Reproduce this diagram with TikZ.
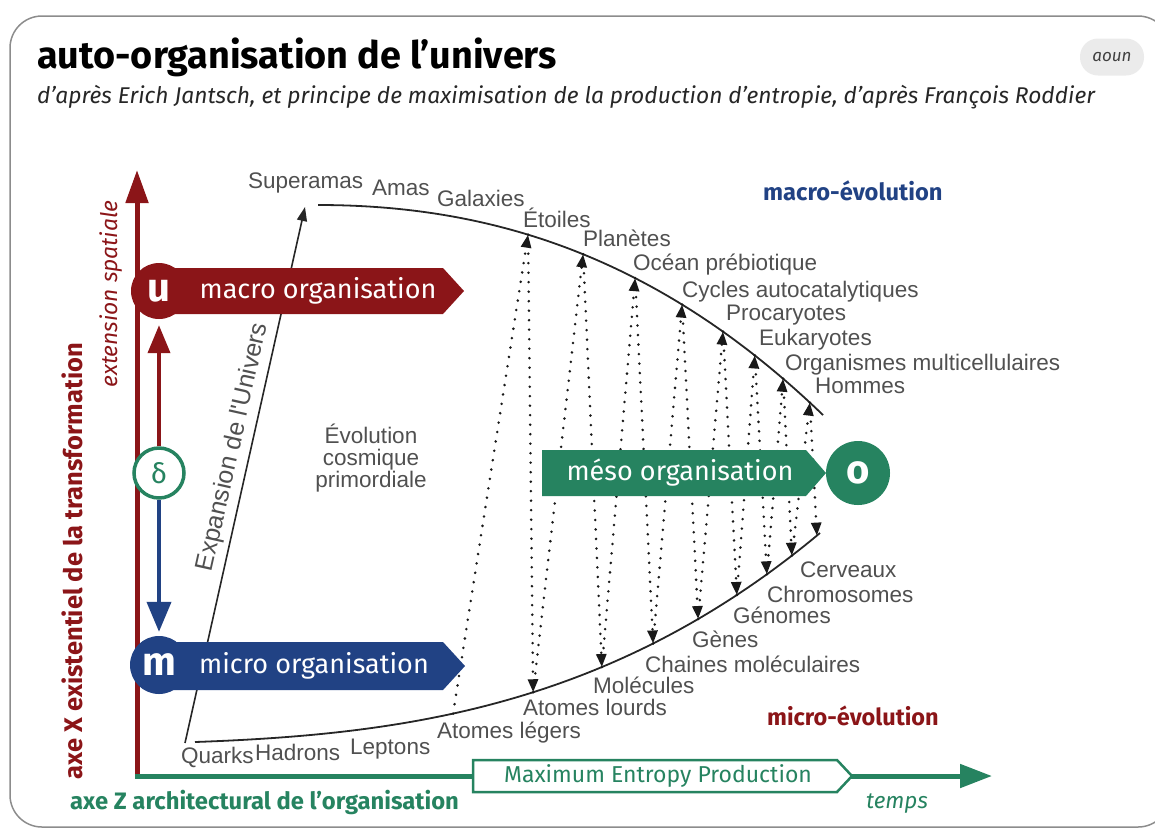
\documentclass[tikz,border=0pt]{standalone}
\usepackage{fontspec}
\setmainfont{Fira Sans}
\newfontfamily\labfont{Liberation Sans}
\usetikzlibrary{arrows.meta}
\definecolor{cred}{RGB}{139,21,24}
\definecolor{cblue}{RGB}{33,66,132}
\definecolor{cgreen}{RGB}{38,131,96}
\definecolor{labgray}{RGB}{80,80,80}
\definecolor{framegray}{RGB}{140,140,140}
\begin{document}
\begin{tikzpicture}[x=1pt,y=-1pt,
  lab/.style={font=\labfont\fontsize{22.5}{22}\selectfont, text=labgray, inner sep=0pt, anchor=base west},
  dots/.style={draw=black!90, line width=2.8pt, dash pattern=on 0pt off 9.5pt, line cap=round, -{Triangle[length=13pt,width=10pt]}},
  bannertext/.style={font=\fontsize{27}{30}\selectfont, text=white, inner sep=0pt},
  disc/.style={circle, inner sep=0pt, text=white, font=\bfseries\fontsize{40}{40}\selectfont},
  curve/.style={draw=black!85, line width=1.8pt},
  ttl/.style={anchor=base west, inner sep=0pt}
  ]
\useasboundingbox (0,0) rectangle (1155,831);
\begin{scope}
\clip (0,0) rectangle (1155,831);
\draw[framegray, line width=1.5pt, rounded corners=32pt] (10,16) rectangle (1170,827);
\end{scope}

% title
\node[ttl, font=\bfseries\fontsize{37.8}{40}\selectfont] (title) at (37,68) {auto-organisation de l’univers};
\node[ttl, font=\itshape\fontsize{22.8}{26}\selectfont, text=black!85] (subtitle) at (37,103) {d’après Erich Jantsch, et principe de maximisation de la production d’entropie, d’après François Roddier};
\node[fill=black!8, rounded corners=18pt, minimum width=64pt, minimum height=37pt, inner sep=0pt, font=\itshape\fontsize{17}{18}\selectfont, text=black!75] (aoun) at (1112,57) {aoun};

% axes
\coordinate (O) at (137,777);
\coordinate (Ytop) at (137,170);
\coordinate (X0) at (135,776);
\coordinate (Xend) at (992,776);
\draw[cred, line width=5pt, -{Triangle[length=33pt,width=22pt]}] (O) -- (Ytop);
\draw[cgreen, line width=5pt, -{Triangle[length=32pt,width=23pt]}] (X0) -- (Xend);
\draw[cgreen, line width=2.5pt, fill=white] (473,760) -- (837,760) -- (852,776) -- (837,792) -- (473,792) -- cycle;
\node[text=cgreen, font=\fontsize{23}{24}\selectfont, inner sep=0pt] (mep) at (658,776) {Maximum Entropy Production};

\node[ttl, font=\bfseries\fontsize{23.8}{26}\selectfont, text=cgreen] (axz) at (70,809) {axe Z architectural de l’organisation};
\node[ttl, font=\itshape\fontsize{22.5}{24}\selectfont, text=cgreen] (temps) at (866,808) {temps};
\node[rotate=90, inner sep=0pt, font=\bfseries\fontsize{25.5}{26}\selectfont, text=cred] (axx) at (72,561) {axe X existentiel de la transformation};
\node[rotate=90, inner sep=0pt, font=\itshape\fontsize{22.8}{24}\selectfont, text=cred] (ext) at (111,294) {extension spatiale};

\node[ttl, font=\bfseries\fontsize{23.7}{26}\selectfont, text=cblue] (macev) at (763,200) {macro-évolution};
\node[ttl, font=\bfseries\fontsize{23.5}{26}\selectfont, text=cred] (micev) at (767,725) {micro-évolution};

% expansion line
\coordinate (E0) at (185,743);
\coordinate (E1) at (305,207);
\draw[black!85, line width=1.6pt, -{Triangle[length=14pt,width=10pt]}] (E0) -- node[lab, font=\labfont\fontsize{25}{25}\selectfont, sloped, pos=.545, above=5pt] (expl) {Expansion de l'Univers} (E1);

% curves
\coordinate (UA) at (318,205);
\coordinate (UB) at (823,415);
\draw[curve] (UA) .. controls (486.3,205) and (654.7,253) .. (UB)
  coordinate[pos=.416] (U1) coordinate[pos=.525] (U2) coordinate[pos=.628] (U3)
  coordinate[pos=.721] (U4) coordinate[pos=.802] (U5) coordinate[pos=.865] (U6)
  coordinate[pos=.921] (U7) coordinate[pos=.974] (U8);
\coordinate (LA) at (195,742);
\coordinate (LB) at (820,533);
\draw[curve] (LA) .. controls (403.3,734.5) and (611.7,707) .. (LB)
  coordinate[pos=.413] (L0) coordinate[pos=.541] (L1) coordinate[pos=.651] (L2)
  coordinate[pos=.733] (L3) coordinate[pos=.805] (L4) coordinate[pos=.867] (L5)
  coordinate[pos=.915] (L6) coordinate[pos=.955] (L7) coordinate[pos=.995] (L8);

\foreach \i/\j in {0/1,1/2,2/3,3/4,4/5,5/6,6/7,7/8} \draw[dots] (L\i) -- (U\j);
\foreach \i in {1,...,8} \draw[dots] (U\i) -- (L\i);

% labels upper
\node[lab] (superamas) at (248,188) {Superamas};
\node[lab] (amas) at (372,195) {Amas};
\node[lab] (galaxies) at (437,206) {Galaxies};
\node[lab] (etoiles) at (523,227) {Étoiles};
\node[lab] (planetes) at (583,246) {Planètes};
\node[lab] (ocean) at (633,270) {Océan prébiotique};
\node[lab] (cycles) at (682,297) {Cycles autocatalytiques};
\node[lab] (procar) at (726,320) {Procaryotes};
\node[lab] (eukar) at (759,345) {Eukaryotes};
\node[lab] (organ) at (785,370) {Organismes multicellulaires};
\node[lab] (hommes) at (815,393) {Hommes};
% labels lower
\node[lab] (quarks) at (181,763) {Quarks};
\node[lab] (hadrons) at (255,760) {Hadrons};
\node[lab] (leptons) at (350,754) {Leptons};
\node[lab] (legers) at (437,738) {Atomes légers};
\node[lab] (lourds) at (523,715) {Atomes lourds};
\node[lab] (molec) at (593,693) {Molécules};
\node[lab] (chaines) at (645,672) {Chaines moléculaires};
\node[lab] (genes) at (692,647) {Gènes};
\node[lab] (genomes) at (733,623) {Génomes};
\node[lab] (chromo) at (767,602) {Chromosomes};
\node[lab] (cerveaux) at (800,577) {Cerveaux};
% middle
\node[lab, anchor=base] (evo1) at (371,443) {Évolution};
\node[lab, anchor=base] (evo2) at (371,465) {cosmique};
\node[lab, anchor=base] (evo3) at (371,487) {primordiale};

% banners
\fill[cred] (159,268) -- (443,268) -- (464,291) -- (443,314) -- (159,314) -- cycle;
\node[disc, fill=cred, minimum size=56pt] (u) at (159,291) {u};
\node[bannertext] (macro) at (318,291) {macro organisation};

\fill[cblue] (159,642) -- (443,642) -- (465,666) -- (443,690) -- (159,690) -- cycle;
\node[disc, fill=cblue, minimum size=58pt] (m) at (159,665) {m};
\node[bannertext] (micro) at (314,666) {micro organisation};

\fill[cgreen] (542,450) -- (806,450) -- (826,473) -- (806,496) -- (542,496) -- cycle;
\node[disc, fill=cgreen, minimum size=64pt] (o) at (858,473) {o};
\node[bannertext] (meso) at (680,473) {méso organisation};

\node[circle, draw=cgreen, line width=3.5pt, fill=white, minimum size=50pt, inner sep=0pt, text=cgreen, font=\fontsize{28}{28}\selectfont] (d) at (159,473) {δ};
\draw[cred, line width=4pt, -{Triangle[length=28pt,width=22pt]}, shorten >=6pt] (d) -- (u);
\draw[cblue, line width=4pt, -{Triangle[length=30pt,width=24pt]}, shorten >=4pt] (d) -- (m);
\end{tikzpicture}
\end{document}
